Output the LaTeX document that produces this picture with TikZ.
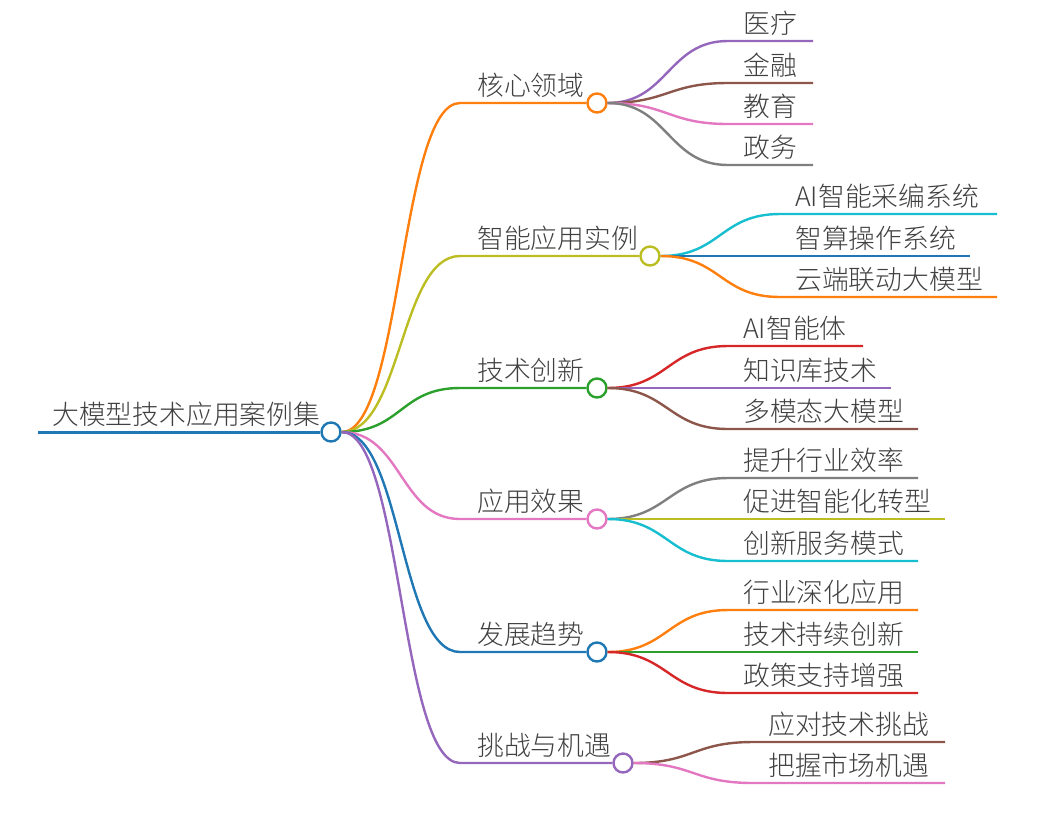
\documentclass[tikz,border=0pt]{standalone}
\usepackage{fontspec}
\newfontfamily\cjk{Noto Sans CJK SC Light}
\usetikzlibrary{positioning}

\definecolor{cblue}{HTML}{1F77B4}
\definecolor{corange}{HTML}{FF7F0E}
\definecolor{cgreen}{HTML}{2CA02C}
\definecolor{cred}{HTML}{D62728}
\definecolor{cpurple}{HTML}{9467BD}
\definecolor{cbrown}{HTML}{8C564B}
\definecolor{cpink}{HTML}{E377C2}
\definecolor{cgray}{HTML}{7F7F7F}
\definecolor{colive}{HTML}{BCBD22}
\definecolor{ccyan}{HTML}{17BECF}

\begin{document}
\begin{tikzpicture}[
    x=1pt, y=-1pt,
    link/.style={line width=2.4pt},
    knot/.style={
      circle,
      draw,
      fill=white,
      line width=2.4pt,
      minimum size=19pt,
      inner sep=0pt
    },
    label/.style={
      anchor=base west,
      inner sep=0pt,
      text=black!75,
      font=\cjk\fontsize{26.8}{31}\selectfont
    }
]
\useasboundingbox (0,0) rectangle (1046,815);

% Wurzel
\node[knot, draw=cblue] (root) at (331,432) {};
\coordinate (rs) at (38,432);
\draw[cblue, line width=3pt] (rs) -- (root.west);
\node[label] (roottext) at (52,424) {大模型技术应用案例集};

% Hauptzweige
\node[knot, draw=corange] (k1) at (597,103) {};
\node[knot, draw=colive]  (k2) at (650,256) {};
\node[knot, draw=cgreen]  (k3) at (597,388) {};
\node[knot, draw=cpink]   (k4) at (597,519) {};
\node[knot, draw=cblue]   (k5) at (597,652) {};
\node[knot, draw=cpurple] (k6) at (623,763) {};

\coordinate (s1) at (460,103);
\coordinate (s2) at (460,256);
\coordinate (s3) at (460,388);
\coordinate (s4) at (460,519);
\coordinate (s5) at (460,652);
\coordinate (s6) at (460,763);

\draw[link, corange] (root.east) .. controls +(60,0) and +(-60,0) .. (s1) -- (k1.west);
\draw[link, colive]  (root.east) .. controls +(60,0) and +(-60,0) .. (s2) -- (k2.west);
\draw[link, cgreen]  (root.east) .. controls +(60,0) and +(-60,0) .. (s3) -- (k3.west);
\draw[link, cpink]   (root.east) .. controls +(60,0) and +(-60,0) .. (s4) -- (k4.west);
\draw[link, cblue]   (root.east) .. controls +(60,0) and +(-60,0) .. (s5) -- (k5.west);
\draw[link, cpurple] (root.east) .. controls +(60,0) and +(-60,0) .. (s6) -- (k6.west);

\node[label] (t1) at (477,95)  {核心领域};
\node[label] (t2) at (477,248) {智能应用实例};
\node[label] (t3) at (477,380) {技术创新};
\node[label] (t4) at (477,511) {应用效果};
\node[label] (t5) at (477,644) {发展趋势};
\node[label] (t6) at (477,755) {挑战与机遇};

% Blaetter: 核心领域
\coordinate (a1s) at (728,41);  \coordinate (a1e) at (813,41);
\coordinate (a2s) at (728,83);  \coordinate (a2e) at (813,83);
\coordinate (a3s) at (728,124); \coordinate (a3e) at (813,124);
\coordinate (a4s) at (728,165); \coordinate (a4e) at (813,165);
\draw[link, cpurple] (k1.east) .. controls +(60,0) and +(-60,0) .. (a1s) -- (a1e);
\draw[link, cbrown]  (k1.east) .. controls +(60,0) and +(-60,0) .. (a2s) -- (a2e);
\draw[link, cpink]   (k1.east) .. controls +(60,0) and +(-60,0) .. (a3s) -- (a3e);
\draw[link, cgray]   (k1.east) .. controls +(60,0) and +(-60,0) .. (a4s) -- (a4e);
\node[label] (a1) at (743,33)  {医疗};
\node[label] (a2) at (743,75)  {金融};
\node[label] (a3) at (743,116) {教育};
\node[label] (a4) at (743,157) {政务};

% Blaetter: 智能应用实例
\coordinate (b1s) at (780,214); \coordinate (b1e) at (997,214);
\coordinate (b2s) at (780,256); \coordinate (b2e) at (970,256);
\coordinate (b3s) at (780,297); \coordinate (b3e) at (997,297);
\draw[link, ccyan]   (k2.east) .. controls +(60,0) and +(-60,0) .. (b1s) -- (b1e);
\draw[link, cblue]   (k2.east) -- (b2s) -- (b2e);
\draw[link, corange] (k2.east) .. controls +(60,0) and +(-60,0) .. (b3s) -- (b3e);
\node[label] (b1) at (795,206) {AI智能采编系统};
\node[label] (b2) at (795,248) {智算操作系统};
\node[label] (b3) at (795,289) {云端联动大模型};

% Blaetter: 技术创新
\coordinate (c1s) at (728,346); \coordinate (c1e) at (863,346);
\coordinate (c2s) at (728,388); \coordinate (c2e) at (891,388);
\coordinate (c3s) at (728,429); \coordinate (c3e) at (918,429);
\draw[link, cred]    (k3.east) .. controls +(60,0) and +(-60,0) .. (c1s) -- (c1e);
\draw[link, cpurple] (k3.east) -- (c2s) -- (c2e);
\draw[link, cbrown]  (k3.east) .. controls +(60,0) and +(-60,0) .. (c3s) -- (c3e);
\node[label] (c1) at (743,338) {AI智能体};
\node[label] (c2) at (743,380) {知识库技术};
\node[label] (c3) at (743,421) {多模态大模型};

% Blaetter: 应用效果
\coordinate (d1s) at (728,478); \coordinate (d1e) at (918,478);
\coordinate (d2s) at (728,519); \coordinate (d2e) at (945,519);
\coordinate (d3s) at (728,561); \coordinate (d3e) at (918,561);
\draw[link, cgray]  (k4.east) .. controls +(60,0) and +(-60,0) .. (d1s) -- (d1e);
\draw[link, colive] (k4.east) -- (d2s) -- (d2e);
\draw[link, ccyan]  (k4.east) .. controls +(60,0) and +(-60,0) .. (d3s) -- (d3e);
\node[label] (d1) at (743,470) {提升行业效率};
\node[label] (d2) at (743,511) {促进智能化转型};
\node[label] (d3) at (743,553) {创新服务模式};

% Blaetter: 发展趋势
\coordinate (e1s) at (728,610); \coordinate (e1e) at (918,610);
\coordinate (e2s) at (728,652); \coordinate (e2e) at (918,652);
\coordinate (e3s) at (728,693); \coordinate (e3e) at (918,693);
\draw[link, corange] (k5.east) .. controls +(60,0) and +(-60,0) .. (e1s) -- (e1e);
\draw[link, cgreen]  (k5.east) -- (e2s) -- (e2e);
\draw[link, cred]    (k5.east) .. controls +(60,0) and +(-60,0) .. (e3s) -- (e3e);
\node[label] (e1) at (743,602) {行业深化应用};
\node[label] (e2) at (743,644) {技术持续创新};
\node[label] (e3) at (743,685) {政策支持增强};

% Blaetter: 挑战与机遇
\coordinate (f1s) at (753,742); \coordinate (f1e) at (945,742);
\coordinate (f2s) at (753,783); \coordinate (f2e) at (945,783);
\draw[link, cbrown] (k6.east) .. controls +(60,0) and +(-60,0) .. (f1s) -- (f1e);
\draw[link, cpink]  (k6.east) .. controls +(60,0) and +(-60,0) .. (f2s) -- (f2e);
\node[label] (f1) at (768,734) {应对技术挑战};
\node[label] (f2) at (768,775) {把握市场机遇};

\end{tikzpicture}
\end{document}
